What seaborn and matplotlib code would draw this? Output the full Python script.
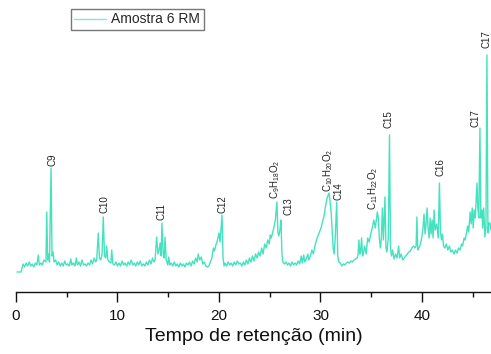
import numpy as np
import pandas as pd
import matplotlib
matplotlib.use("Agg")
import matplotlib.pyplot as plt
import seaborn as sns

# ---- data (time in min, intensity in arbitrary units) ----
tempo = [0.10, 0.50, 0.70, 0.85, 1.00, 1.15, 1.30, 1.45, 1.60, 1.75, 1.90, 2.05, 2.20, 2.30, 2.45,
         2.60, 2.75, 2.95, 3.03, 3.12, 3.22, 3.30, 3.45, 3.55, 3.65, 3.75, 3.90, 4.05, 4.20, 4.35,
         4.50, 4.65, 4.80, 4.95, 5.10, 5.25, 5.40, 5.50, 5.65, 5.80, 5.95, 6.05, 6.20, 6.35, 6.50,
         6.65, 6.80, 6.95, 7.10, 7.25, 7.40, 7.55, 7.70, 7.85, 7.95, 8.11, 8.22, 8.35, 8.48, 8.60,
         8.72, 8.85, 8.93, 9.05, 9.20, 9.35, 9.43, 9.55, 9.70, 9.85, 10.00, 10.15, 10.30, 10.45, 10.60,
         10.75, 10.90, 11.05, 11.20, 11.35, 11.50, 11.65, 11.80, 11.95, 12.10, 12.25, 12.40, 12.55, 12.70,
         12.85, 13.00, 13.15, 13.30, 13.45, 13.60, 13.70, 13.86, 13.98, 14.10, 14.20, 14.30, 14.38, 14.50,
         14.60, 14.68, 14.80, 14.95, 15.05, 15.15, 15.30, 15.45, 15.60, 15.75, 15.90, 16.05, 16.20, 16.35,
         16.50, 16.65, 16.80, 16.95, 17.10, 17.25, 17.40, 17.55, 17.70, 17.85, 17.95, 18.10, 18.25, 18.40,
         18.55, 18.70, 18.85, 19.00, 19.15, 19.30, 19.45, 19.55, 19.70, 19.85, 20.00, 20.10, 20.30, 20.40,
         20.50, 20.60, 20.75, 20.90, 21.05, 21.20, 21.35, 21.50, 21.65, 21.80, 21.95, 22.10, 22.25, 22.40,
         22.55, 22.70, 22.85, 23.00, 23.15, 23.30, 23.45, 23.60, 23.75, 23.90, 24.05, 24.20, 24.35, 24.50,
         24.65, 24.80, 24.95, 25.05, 25.15, 25.30, 25.40, 25.55, 25.71, 25.80, 25.90, 26.00, 26.11, 26.20,
         26.30, 26.45, 26.60, 26.75, 26.90, 27.05, 27.20, 27.35, 27.50, 27.65, 27.80, 27.95, 28.10, 28.20,
         28.35, 28.45, 28.60, 28.75, 28.85, 29.00, 29.15, 29.30, 29.45, 29.60, 29.75, 29.90, 30.05, 30.20,
         30.35, 30.50, 30.65, 30.84, 30.95, 31.05, 31.15, 31.25, 31.35, 31.45, 31.60, 31.70, 31.80, 31.95,
         32.10, 32.25, 32.40, 32.55, 32.70, 32.85, 33.00, 33.15, 33.30, 33.45, 33.60, 33.70, 33.78, 33.88,
         33.95, 34.05, 34.15, 34.25, 34.35, 34.50, 34.65, 34.80, 34.95, 35.10, 35.25, 35.40, 35.60, 35.70,
         35.80, 35.90, 36.00, 36.10, 36.20, 36.35, 36.45, 36.55, 36.68, 36.80, 36.90, 37.00, 37.10, 37.25,
         37.40, 37.55, 37.70, 37.80, 37.95, 38.10, 38.25, 38.40, 38.55, 38.70, 38.85, 39.00, 39.15, 39.30,
         39.42, 39.50, 39.58, 39.70, 39.85, 40.00, 40.10, 40.20, 40.30, 40.40, 40.50, 40.60, 40.70, 40.80,
         40.90, 41.00, 41.10, 41.20, 41.30, 41.45, 41.60, 41.72, 41.82, 41.92, 42.02, 42.12, 42.25, 42.40,
         42.55, 42.70, 42.85, 43.00, 43.15, 43.30, 43.45, 43.60, 43.75, 43.90, 44.00, 44.15, 44.25, 44.40,
         44.50, 44.60, 44.75, 44.85, 44.95, 45.05, 45.15, 45.25, 45.42, 45.50, 45.60, 45.71, 45.80, 45.90,
         45.98, 46.08, 46.20, 46.30, 46.40, 46.50, 46.60, 46.70, 46.80]
intensidade = [-4, -4, 4, 1, 5, 2, 6, 2, 4, 1, 5, 3, 13, 3, 5,
               3, 8, 6, 56, 8, 14, 6, 100, 12, 16, 6, 8, 3, 6, 2,
               5, 2, 7, 3, 4, 2, 9, 3, 5, 2, 10, 3, 6, 2, 8,
               3, 4, 2, 5, 3, 8, 4, 10, 6, 8, 35, 10, 8, 14, 51,
               12, 10, 22, 8, 6, 5, 18, 4, 3, 6, 2, 5, 2, 7, 3,
               5, 2, 6, 3, 8, 3, 5, 2, 6, 3, 7, 2, 4, 2,
               6, 3, 8, 4, 10, 6, 8, 31, 14, 18, 25, 12, 45, 14,
               10, 31, 8, 3, 11, 3, 5, 2, 6, 2, 4, 1, 5, 2,
               4, 1, 5, 3, 6, 2, 7, 4, 10, 6, 14, 8, 11, 4,
               6, 2, 1, 2, 6, 10, 20, 17, 23, 28, 35, 26, 53, 10,
               2, 5, 2, 6, 3, 5, 2, 6, 3, 7, 4, 5, 2, 6,
               3, 8, 4, 10, 6, 12, 7, 14, 10, 16, 12, 20, 14, 24,
               20, 28, 24, 33, 30, 36, 40, 48, 66, 36, 32, 38, 48, 14,
               6, 4, 6, 3, 5, 2, 6, 3, 5, 3, 7, 4, 12, 5,
               13, 6, 9, 14, 8, 12, 18, 14, 22, 28, 32, 36, 40, 46,
               52, 62, 70, 75, 66, 56, 38, 20, 14, 30, 66, 12, 6, 5,
               2, 4, 3, 5, 6, 5, 7, 6, 8, 9, 10, 13, 28, 14,
               16, 30, 12, 16, 22, 14, 30, 26, 34, 40, 48, 40, 56, 50,
               30, 20, 30, 60, 28, 71, 20, 16, 30, 133, 20, 12, 18, 9,
               14, 10, 22, 10, 14, 8, 10, 12, 14, 16, 17, 20, 22, 20,
               22, 51, 18, 20, 24, 32, 40, 54, 34, 44, 60, 40, 30, 50,
               34, 48, 30, 58, 38, 44, 30, 85, 36, 28, 34, 22, 20, 24,
               18, 22, 16, 18, 14, 18, 15, 20, 18, 24, 22, 30, 28, 36,
               42, 36, 56, 44, 60, 40, 58, 50, 85, 60, 50, 140, 50, 58,
               40, 60, 31, 40, 213, 35, 45, 45, 38]

rotulos = ['C9', 'C10', 'C11', 'C12', r'C$_9$H$_{18}$O$_2$', 'C13',
           r'C$_{10}$H$_{20}$O$_2$', 'C14', r'C$_{11}$H$_{22}$O$_2$', 'C15',
           'C16', 'C17', 'C17']
rotulo_tempo = [3.62, 8.75, 14.38, 20.30, 25.55, 26.80, 30.74, 31.80, 35.20, 36.68,
                41.85, 45.25, 46.32]
rotulo_altura = [102, 55, 48, 55, 69, 53, 76, 68, 58, 140, 92, 141, 220]

x_ticks = [0, 10, 20, 30, 40]
serie = 'Amostra 6 RM'

df = pd.DataFrame({'Tempo': tempo, 'Intensidade': intensidade})

sns.set_style('white')
plt.rcParams['font.family'] = ['Liberation Sans', 'DejaVu Sans']
plt.rcParams['mathtext.fontset'] = 'custom'
plt.rcParams['mathtext.rm'] = 'Liberation Sans'
plt.rcParams['mathtext.it'] = 'Liberation Sans'
plt.rcParams['mathtext.default'] = 'regular'

fig = plt.figure(figsize=(4.91, 3.54), dpi=100)
ax = fig.add_axes([16 / 491, 62 / 354, 1 - 16 / 491, 1 - 62 / 354])

line_color = '#45e2bf'
sns.lineplot(data=df, x='Tempo', y='Intensidade', ax=ax, color=line_color,
             linewidth=1.0, estimator=None, label=serie)

for lab, t, h in zip(rotulos, rotulo_tempo, rotulo_altura):
    ax.text(t, h, lab, rotation=90, ha='center', va='bottom', fontsize=7,
            color='#222222')

ax.set_xlim(0, 46.8)
ax.set_ylim(-24, 268)
ax.set_xticks(x_ticks)
ax.set_xticks([5, 15, 25, 35, 45], minor=True)
ax.tick_params(axis='x', which='major', direction='out', length=7, width=1,
               labelsize=11, pad=5, colors='#111111', bottom=True)
ax.tick_params(axis='x', which='minor', direction='out', length=3.5, width=1,
               bottom=True, colors='#111111')
ax.set_yticks([])
ax.set_ylabel('')
ax.set_xlabel('Tempo de retenção (min)', fontsize=14, labelpad=4, color='#111111')
for s in ['left', 'top', 'right']:
    ax.spines[s].set_visible(False)
ax.spines['bottom'].set_color('#111111')
ax.spines['bottom'].set_linewidth(1.0)

leg = ax.legend(loc='upper left', bbox_to_anchor=(71 / 491, 1 - 9 / 354),
                bbox_transform=fig.transFigure, frameon=True, fancybox=False,
                fontsize=10, borderpad=0.25, handlelength=2.3, handletextpad=0.35,
                borderaxespad=0)
leg.get_frame().set_edgecolor('#555555')
leg.get_frame().set_linewidth(1.0)
for h in leg.get_lines():
    h.set_color('#7fe8dc')
    h.set_linewidth(1.0)

fig.savefig('out.png', dpi=100)
